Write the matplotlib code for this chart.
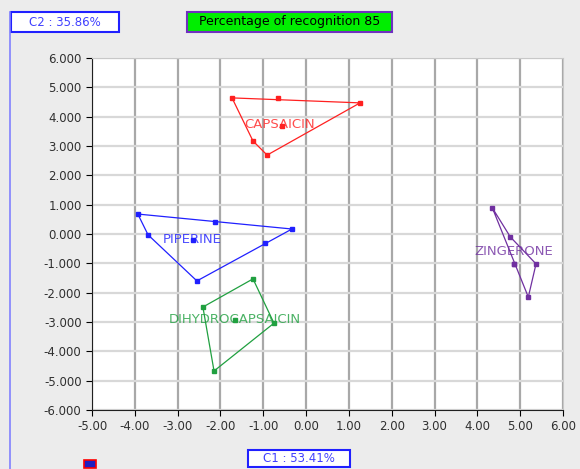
import matplotlib
matplotlib.use('Agg')
import matplotlib.pyplot as plt
from matplotlib.patches import Rectangle
import numpy as np

# group names, colours and sample points (C1, C2)
groups = ['CAPSAICIN', 'PIPERINE', 'DIHYDROCAPSAICIN', 'ZINGERONE']
colors = ['#ff2020', '#2020ff', '#20a040', '#7030a0']

capsaicin_x = [-1.73, 1.26, -0.91, -1.24, -0.65]
capsaicin_y = [4.64, 4.47, 2.69, 3.17, 4.62]
piperine_x = [-3.93, -2.13, -0.33, -0.96, -2.55, -3.69]
piperine_y = [0.68, 0.41, 0.17, -0.31, -1.60, -0.03]
dihydro_x = [-1.24, -0.75, -2.15, -2.41]
dihydro_y = [-1.53, -3.04, -4.67, -2.49]
zingerone_x = [4.35, 4.77, 5.37, 5.19, 4.86]
zingerone_y = [0.89, -0.10, -1.02, -2.15, -1.02]

# order of hull vertices (indices into each group's points)
hulls = [[0, 1, 2, 3], [0, 2, 4, 5], [0, 1, 2, 3], [0, 1, 2, 3]]

label_x = [-0.63, -2.66, -1.66, 4.86]
label_y = [3.72, -0.20, -2.93, -0.58]
centre_x = [-0.56, -2.64, -1.66, 4.86]
centre_y = [3.68, -0.21, -2.93, -1.02]

xticks = np.arange(-5, 7, 1)
yticks = np.arange(-6, 7, 1)

xs = [capsaicin_x, piperine_x, dihydro_x, zingerone_x]
ys = [capsaicin_y, piperine_y, dihydro_y, zingerone_y]

fig = plt.figure(figsize=(5.8, 4.69), dpi=100)
fig.patch.set_facecolor('#ececec')
ax = fig.add_axes([92 / 580, 1 - 410 / 469, 471 / 580, 352 / 469])
ax.set_facecolor('white')

for v in xticks:
    ax.axvline(v, color='#a8a8a8', linewidth=1.6, zorder=0)
for v in yticks:
    ax.axhline(v, color='#d8d8d8', linewidth=1.6, zorder=0)

for i in range(len(groups)):
    px = np.array(xs[i])
    py = np.array(ys[i])
    idx = hulls[i] + [hulls[i][0]]
    ax.plot(px[idx], py[idx], color=colors[i], linewidth=0.9, zorder=2)
    ax.plot(px, py, 's', color=colors[i], markersize=2.5, zorder=3)
    ax.plot(centre_x[i], centre_y[i], 's', color=colors[i], markersize=2.5, zorder=3)
    ax.text(label_x[i], label_y[i], groups[i], color=colors[i], fontsize=9.5,
            ha='center', va='center', alpha=0.8, zorder=4)

ax.set_xlim(-5, 6)
ax.set_ylim(-6, 6)
ax.set_xticks(xticks)
ax.set_yticks(yticks)
ax.set_xticklabels(['%.2f' % v for v in xticks])
ax.set_yticklabels(['%.3f' % v for v in yticks])
ax.tick_params(direction='out', length=4, labelsize=8.5, labelcolor='#303030',
               top=False, right=False)
for s in ['top', 'right']:
    ax.spines[s].set_color('#c8c8c8')
for s in ['left', 'bottom']:
    ax.spines[s].set_color('#202020')

# left border line
fig.add_artist(plt.Line2D([10 / 580, 10 / 580], [0, 1 - 12 / 469], color='#8080ff',
                          linewidth=1.2))

# header and footer boxes
def box(x0, y0, w, h, text, face, edge, tcolor, size):
    fig.add_artist(Rectangle((x0 / 580, 1 - (y0 + h) / 469), w / 580, h / 469,
                             facecolor=face, edgecolor=edge, linewidth=1.5,
                             transform=fig.transFigure))
    fig.text((x0 + w / 2) / 580, 1 - (y0 + h / 2) / 469, text, color=tcolor,
             fontsize=size, ha='center', va='center')

box(11, 12, 108, 20, 'C2 : 35.86%', 'white', '#2020ff', '#4040ff', 8.5)
box(187, 12, 205, 20, 'Percentage of recognition 85', '#00ee00', '#7030c0', 'black', 9)
box(248, 450, 102, 17, 'C1 : 53.41%', 'white', '#2020ff', '#4040ff', 8.5)

# small icon at bottom left
fig.add_artist(Rectangle((84 / 580, 1 - 468 / 469), 12 / 580, 8 / 469,
                         facecolor='#2020c0', edgecolor='red', linewidth=1.2,
                         transform=fig.transFigure))

plt.savefig('out.png', dpi=100, facecolor=fig.get_facecolor())
